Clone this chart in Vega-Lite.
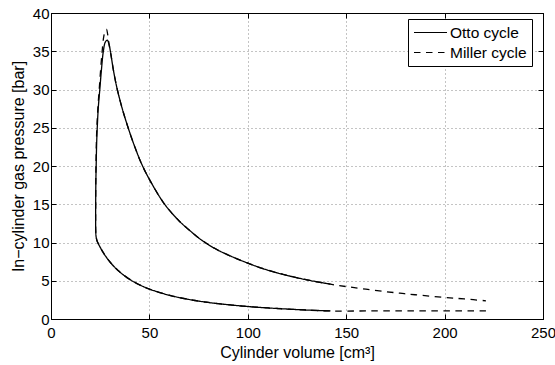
{
  "$schema": "https://vega.github.io/schema/vega-lite/v6.json",
  "width": 492,
  "height": 306,
  "autosize": {"type": "none"},
  "padding": {"left": 51, "top": 13, "right": 12, "bottom": 46},
  "background": "white",
  "config": {
    "font": "Liberation Sans",
    "view": {"stroke": "#000", "strokeWidth": 1},
    "axis": {
      "domainColor": "#000",
      "tickColor": "#000",
      "labelColor": "#000",
      "titleColor": "#000",
      "labelFontSize": 15,
      "titleFontSize": 16,
      "titleFontWeight": "normal",
      "labelFlush": false,
      "labelOverlap": false,
      "gridColor": "#888",
      "gridDash": [1, 3],
      "gridWidth": 1
    }
  },
  "data": {
    "values": [
      {"cycle": "Otto cycle", "i": 1, "v": 142, "p": 1.05},
      {"cycle": "Otto cycle", "i": 2, "v": 130, "p": 1.17},
      {"cycle": "Otto cycle", "i": 3, "v": 120, "p": 1.3},
      {"cycle": "Otto cycle", "i": 4, "v": 110, "p": 1.45},
      {"cycle": "Otto cycle", "i": 5, "v": 100, "p": 1.63},
      {"cycle": "Otto cycle", "i": 6, "v": 90, "p": 1.87},
      {"cycle": "Otto cycle", "i": 7, "v": 80, "p": 2.16},
      {"cycle": "Otto cycle", "i": 8, "v": 70, "p": 2.56},
      {"cycle": "Otto cycle", "i": 9, "v": 60, "p": 3.11},
      {"cycle": "Otto cycle", "i": 10, "v": 50, "p": 3.91},
      {"cycle": "Otto cycle", "i": 11, "v": 45, "p": 4.47},
      {"cycle": "Otto cycle", "i": 12, "v": 40, "p": 5.18},
      {"cycle": "Otto cycle", "i": 13, "v": 35, "p": 6.13},
      {"cycle": "Otto cycle", "i": 14, "v": 32, "p": 6.86},
      {"cycle": "Otto cycle", "i": 15, "v": 30, "p": 7.45},
      {"cycle": "Otto cycle", "i": 16, "v": 28, "p": 8.12},
      {"cycle": "Otto cycle", "i": 17, "v": 26.5, "p": 8.7},
      {"cycle": "Otto cycle", "i": 18, "v": 25, "p": 9.37},
      {"cycle": "Otto cycle", "i": 19, "v": 24, "p": 9.86},
      {"cycle": "Otto cycle", "i": 20, "v": 23.3, "p": 10.3},
      {"cycle": "Otto cycle", "i": 21, "v": 22.9, "p": 10.8},
      {"cycle": "Otto cycle", "i": 22, "v": 22.72, "p": 11.6},
      {"cycle": "Otto cycle", "i": 23, "v": 22.68, "p": 13},
      {"cycle": "Otto cycle", "i": 24, "v": 22.7, "p": 15},
      {"cycle": "Otto cycle", "i": 25, "v": 22.8, "p": 18},
      {"cycle": "Otto cycle", "i": 26, "v": 22.95, "p": 20},
      {"cycle": "Otto cycle", "i": 27, "v": 23.2, "p": 23},
      {"cycle": "Otto cycle", "i": 28, "v": 23.5, "p": 25},
      {"cycle": "Otto cycle", "i": 29, "v": 24.0, "p": 27.5},
      {"cycle": "Otto cycle", "i": 30, "v": 24.8, "p": 30},
      {"cycle": "Otto cycle", "i": 31, "v": 25.6, "p": 32.5},
      {"cycle": "Otto cycle", "i": 32, "v": 26.6, "p": 35},
      {"cycle": "Otto cycle", "i": 33, "v": 27.6, "p": 36.2},
      {"cycle": "Otto cycle", "i": 34, "v": 28.6, "p": 36.45},
      {"cycle": "Otto cycle", "i": 35, "v": 29.4, "p": 36.0},
      {"cycle": "Otto cycle", "i": 36, "v": 30.3, "p": 34.8},
      {"cycle": "Otto cycle", "i": 37, "v": 31.8, "p": 32.4},
      {"cycle": "Otto cycle", "i": 38, "v": 33.6, "p": 30.1},
      {"cycle": "Otto cycle", "i": 39, "v": 36.2, "p": 27.5},
      {"cycle": "Otto cycle", "i": 40, "v": 39.2, "p": 25.0},
      {"cycle": "Otto cycle", "i": 41, "v": 42.3, "p": 22.7},
      {"cycle": "Otto cycle", "i": 42, "v": 46, "p": 20.3},
      {"cycle": "Otto cycle", "i": 43, "v": 50, "p": 18.25},
      {"cycle": "Otto cycle", "i": 44, "v": 57.6, "p": 15.05},
      {"cycle": "Otto cycle", "i": 45, "v": 65, "p": 12.85},
      {"cycle": "Otto cycle", "i": 46, "v": 70.6, "p": 11.55},
      {"cycle": "Otto cycle", "i": 47, "v": 76.6, "p": 10.3},
      {"cycle": "Otto cycle", "i": 48, "v": 85, "p": 8.98},
      {"cycle": "Otto cycle", "i": 49, "v": 100, "p": 7.3},
      {"cycle": "Otto cycle", "i": 50, "v": 110, "p": 6.4},
      {"cycle": "Otto cycle", "i": 51, "v": 121.4, "p": 5.61},
      {"cycle": "Otto cycle", "i": 52, "v": 130, "p": 5.12},
      {"cycle": "Otto cycle", "i": 53, "v": 142, "p": 4.55},

      {"cycle": "Miller cycle", "i": 1, "v": 221, "p": 1.05},
      {"cycle": "Miller cycle", "i": 2, "v": 200, "p": 1.05},
      {"cycle": "Miller cycle", "i": 3, "v": 180, "p": 1.05},
      {"cycle": "Miller cycle", "i": 4, "v": 160, "p": 1.05},
      {"cycle": "Miller cycle", "i": 5, "v": 142, "p": 1.05},
      {"cycle": "Miller cycle", "i": 6, "v": 130, "p": 1.17},
      {"cycle": "Miller cycle", "i": 7, "v": 120, "p": 1.3},
      {"cycle": "Miller cycle", "i": 8, "v": 110, "p": 1.45},
      {"cycle": "Miller cycle", "i": 9, "v": 100, "p": 1.63},
      {"cycle": "Miller cycle", "i": 10, "v": 90, "p": 1.87},
      {"cycle": "Miller cycle", "i": 11, "v": 80, "p": 2.16},
      {"cycle": "Miller cycle", "i": 12, "v": 70, "p": 2.56},
      {"cycle": "Miller cycle", "i": 13, "v": 60, "p": 3.11},
      {"cycle": "Miller cycle", "i": 14, "v": 50, "p": 3.91},
      {"cycle": "Miller cycle", "i": 15, "v": 45, "p": 4.47},
      {"cycle": "Miller cycle", "i": 16, "v": 40, "p": 5.18},
      {"cycle": "Miller cycle", "i": 17, "v": 35, "p": 6.13},
      {"cycle": "Miller cycle", "i": 18, "v": 32, "p": 6.86},
      {"cycle": "Miller cycle", "i": 19, "v": 30, "p": 7.45},
      {"cycle": "Miller cycle", "i": 20, "v": 28, "p": 8.12},
      {"cycle": "Miller cycle", "i": 21, "v": 26.5, "p": 8.7},
      {"cycle": "Miller cycle", "i": 22, "v": 25, "p": 9.37},
      {"cycle": "Miller cycle", "i": 23, "v": 24, "p": 9.86},
      {"cycle": "Miller cycle", "i": 24, "v": 23.3, "p": 10.3},
      {"cycle": "Miller cycle", "i": 25, "v": 22.9, "p": 10.8},
      {"cycle": "Miller cycle", "i": 26, "v": 22.72, "p": 11.6},
      {"cycle": "Miller cycle", "i": 27, "v": 22.68, "p": 13},
      {"cycle": "Miller cycle", "i": 28, "v": 22.7, "p": 15},
      {"cycle": "Miller cycle", "i": 29, "v": 22.75, "p": 18},
      {"cycle": "Miller cycle", "i": 30, "v": 22.85, "p": 20},
      {"cycle": "Miller cycle", "i": 31, "v": 23.05, "p": 23},
      {"cycle": "Miller cycle", "i": 32, "v": 23.3, "p": 25},
      {"cycle": "Miller cycle", "i": 33, "v": 23.8, "p": 27.5},
      {"cycle": "Miller cycle", "i": 34, "v": 24.5, "p": 30},
      {"cycle": "Miller cycle", "i": 35, "v": 25.2, "p": 32.5},
      {"cycle": "Miller cycle", "i": 36, "v": 26.0, "p": 35},
      {"cycle": "Miller cycle", "i": 37, "v": 26.8, "p": 36.9},
      {"cycle": "Miller cycle", "i": 38, "v": 27.6, "p": 37.7},
      {"cycle": "Miller cycle", "i": 39, "v": 28.2, "p": 37.85},
      {"cycle": "Miller cycle", "i": 40, "v": 28.8, "p": 37.2},
      {"cycle": "Miller cycle", "i": 41, "v": 29.5, "p": 35.9},
      {"cycle": "Miller cycle", "i": 42, "v": 30.3, "p": 34.8},
      {"cycle": "Miller cycle", "i": 43, "v": 31.8, "p": 32.4},
      {"cycle": "Miller cycle", "i": 44, "v": 33.6, "p": 30.1},
      {"cycle": "Miller cycle", "i": 45, "v": 36.2, "p": 27.5},
      {"cycle": "Miller cycle", "i": 46, "v": 39.2, "p": 25.0},
      {"cycle": "Miller cycle", "i": 47, "v": 42.3, "p": 22.7},
      {"cycle": "Miller cycle", "i": 48, "v": 46, "p": 20.3},
      {"cycle": "Miller cycle", "i": 49, "v": 50, "p": 18.25},
      {"cycle": "Miller cycle", "i": 50, "v": 57.6, "p": 15.05},
      {"cycle": "Miller cycle", "i": 51, "v": 65, "p": 12.85},
      {"cycle": "Miller cycle", "i": 52, "v": 70.6, "p": 11.55},
      {"cycle": "Miller cycle", "i": 53, "v": 76.6, "p": 10.3},
      {"cycle": "Miller cycle", "i": 54, "v": 85, "p": 8.98},
      {"cycle": "Miller cycle", "i": 55, "v": 100, "p": 7.3},
      {"cycle": "Miller cycle", "i": 56, "v": 110, "p": 6.4},
      {"cycle": "Miller cycle", "i": 57, "v": 121.4, "p": 5.61},
      {"cycle": "Miller cycle", "i": 58, "v": 130, "p": 5.12},
      {"cycle": "Miller cycle", "i": 59, "v": 142, "p": 4.55},
      {"cycle": "Miller cycle", "i": 60, "v": 150, "p": 4.24},
      {"cycle": "Miller cycle", "i": 61, "v": 160, "p": 3.9},
      {"cycle": "Miller cycle", "i": 62, "v": 170, "p": 3.58},
      {"cycle": "Miller cycle", "i": 63, "v": 177.3, "p": 3.37},
      {"cycle": "Miller cycle", "i": 64, "v": 185, "p": 3.17},
      {"cycle": "Miller cycle", "i": 65, "v": 200, "p": 2.82},
      {"cycle": "Miller cycle", "i": 66, "v": 210, "p": 2.62},
      {"cycle": "Miller cycle", "i": 67, "v": 221, "p": 2.38}
    ]
  },
  "layer": [
    {
      "mark": {"type": "line", "color": "#000", "strokeWidth": 1.3, "interpolate": "catmull-rom"},
      "encoding": {
        "x": {
          "field": "v", "type": "quantitative",
          "scale": {"domain": [0, 250], "nice": false, "zero": false},
          "axis": {
            "orient": "bottom",
            "title": "Cylinder volume [cm³]",
            "values": [0, 50, 100, 150, 200, 250],
            "grid": true,
            "tickSize": -5,
            "labelPadding": 11,
            "titlePadding": 4
          }
        },
        "y": {
          "field": "p", "type": "quantitative",
          "scale": {"domain": [0, 40], "nice": false, "zero": false},
          "axis": {
            "orient": "left",
            "title": "In−cylinder gas pressure [bar]",
            "values": [0, 5, 10, 15, 20, 25, 30, 35, 40],
            "grid": true,
            "tickSize": -5,
            "labelPadding": 7,
            "titlePadding": 6
          }
        },
        "strokeDash": {
          "field": "cycle", "type": "nominal",
          "scale": {"domain": ["Otto cycle", "Miller cycle"], "range": [[1, 0], [6.5, 5.5]]},
          "legend": {
            "orient": "none",
            "legendX": 357,
            "legendY": 6,
            "title": null,
            "strokeColor": "#000",
            "fillColor": "#fff",
            "padding": 5,
            "cornerRadius": 0,
            "symbolType": "M-1,0L3.4,0",
            "symbolSize": 225,
            "symbolStrokeWidth": 1.2,
            "symbolStrokeColor": "#000",
            "labelFontSize": 15.5,
            "labelColor": "#000",
            "labelOffset": 20,
            "rowPadding": 3
          }
        },
        "order": {"field": "i", "type": "quantitative"}
      }
    },
    {
      "mark": {"type": "line", "strokeOpacity": 0},
      "encoding": {
        "x": {
          "field": "v", "type": "quantitative",
          "axis": {"orient": "top", "title": null, "labels": false, "grid": false, "tickSize": -5, "values": [0, 50, 100, 150, 200, 250]}
        },
        "y": {
          "field": "p", "type": "quantitative",
          "axis": {"orient": "right", "title": null, "labels": false, "grid": false, "tickSize": -5, "values": [0, 5, 10, 15, 20, 25, 30, 35, 40]}
        },
        "detail": {"field": "cycle", "type": "nominal"},
        "order": {"field": "i", "type": "quantitative"}
      }
    }
  ],
  "resolve": {"axis": {"x": "independent", "y": "independent"}}
}
